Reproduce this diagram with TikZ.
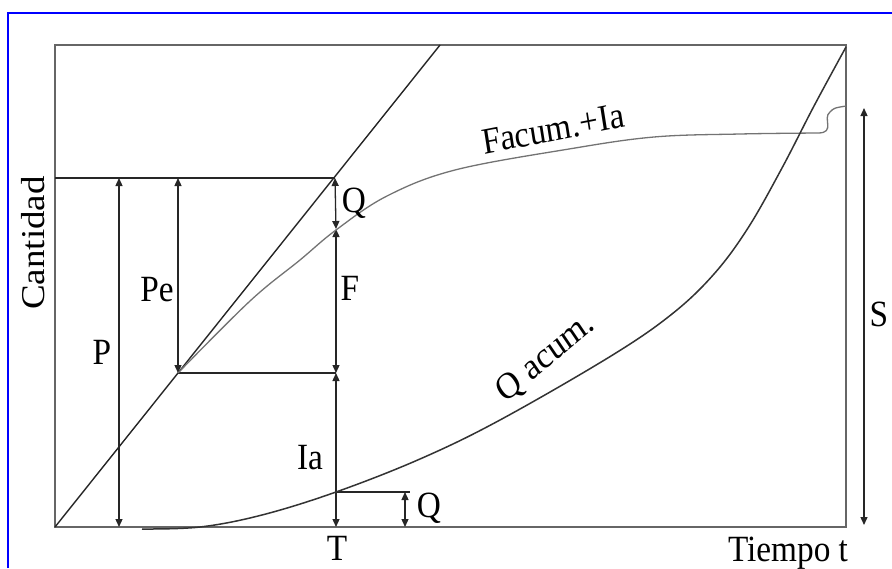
\documentclass[tikz,border=0pt]{standalone}
\usepackage{fontspec}
\setmainfont{Liberation Serif}
\usetikzlibrary{arrows.meta}
\begin{document}
\begin{tikzpicture}[x=1pt,y=-1pt,
  lbl/.style={inner sep=0pt,font=\fontsize{37}{40}\selectfont,xscale=0.9},
  frame/.style={draw=black!60,line width=2.2pt},
  ln/.style={draw=black!85,line width=1.4pt},
  dim/.style={draw=black!85,line width=1.3pt,{Triangle[length=8pt,width=7pt]}-{Triangle[length=8pt,width=7pt]}},
  curveA/.style={draw=black!55,line width=1.3pt},
  curveB/.style={draw=black!80,line width=1.5pt}]
\useasboundingbox (0,0) rectangle (892,568);
% blue frame
\draw[blue,line width=2pt] (8,568) -- (8,13) -- (892,13);
% coordinates
\coordinate (BL) at (55,527);
\coordinate (TR) at (846,45);
\coordinate (DT) at (440,45);
\coordinate (Ptop) at (335,178);
\coordinate (Pleft) at (55,178);
\coordinate (PeB) at (178,373);
\coordinate (FB) at (336,373);
\coordinate (FT) at (336,229);
\coordinate (TB) at (336,527);
\coordinate (QI) at (336,492);
\coordinate (QR) at (410,492);
% box
\draw[frame] (BL) rectangle (TR);
% diagonal
\draw[ln] (BL) -- (DT);
% horizontals
\draw[ln] (Pleft) -- (Ptop);
\draw[ln] (PeB) -- (FB);
\draw[ln] (QI) -- (QR);
% dimension arrows
\draw[dim] (119,178) -- (119,527);
\draw[dim] (178,178) -- (PeB);
\draw[dim] (Ptop) -- (FT);
\draw[dim] (FT) -- (FB);
\draw[dim] (FB) -- (TB);
\draw[dim] (405,492) -- (405,527);
\draw[dim] (864,108) -- (864,525);
% Facum + Ia curve
\draw[curveA] plot[smooth,tension=0.6] coordinates {(178,373) (250,301) (300,260) (336,230) (387,196) (455,170) (569,149) (654,137) (740,134) (818,133)}
  .. controls (836,133) and (822,118) .. (830,112) .. controls (834,108) .. (846,106);
% Q acum curve
\draw[curveB] plot[smooth,tension=0.6] coordinates {(142,529) (200,527) (262,515) (336,492) (420,459) (500,420) (611,356) (672,314) (714,274) (748,228) (782,168) (814,106) (846,47)};
% labels
\node[lbl,rotate=90,anchor=base] (cant) at (45,243) {Cantidad};
\node[lbl,anchor=base] (lP) at (102,364) {P};
\node[lbl,anchor=base] (lPe) at (157,301) {Pe};
\node[lbl,anchor=base] (lQ1) at (354,212) {Q};
\node[lbl,anchor=base] (lF) at (350,300) {F};
\node[lbl,anchor=base] (lIa) at (310,469) {Ia};
\node[lbl,anchor=base] (lQ2) at (429,517) {Q};
\node[lbl,anchor=base] (lT) at (337,560) {T};
\node[lbl,anchor=base] (lS) at (879,326) {S};
\node[lbl,anchor=base] (lTt) at (788,561) {Tiempo t};
\node[lbl,rotate=10] (lFa) at (553,129) {Facum.+Ia};
\node[lbl,rotate=37] (lQa) at (546,358) {Q acum.};
\end{tikzpicture}
\end{document}
